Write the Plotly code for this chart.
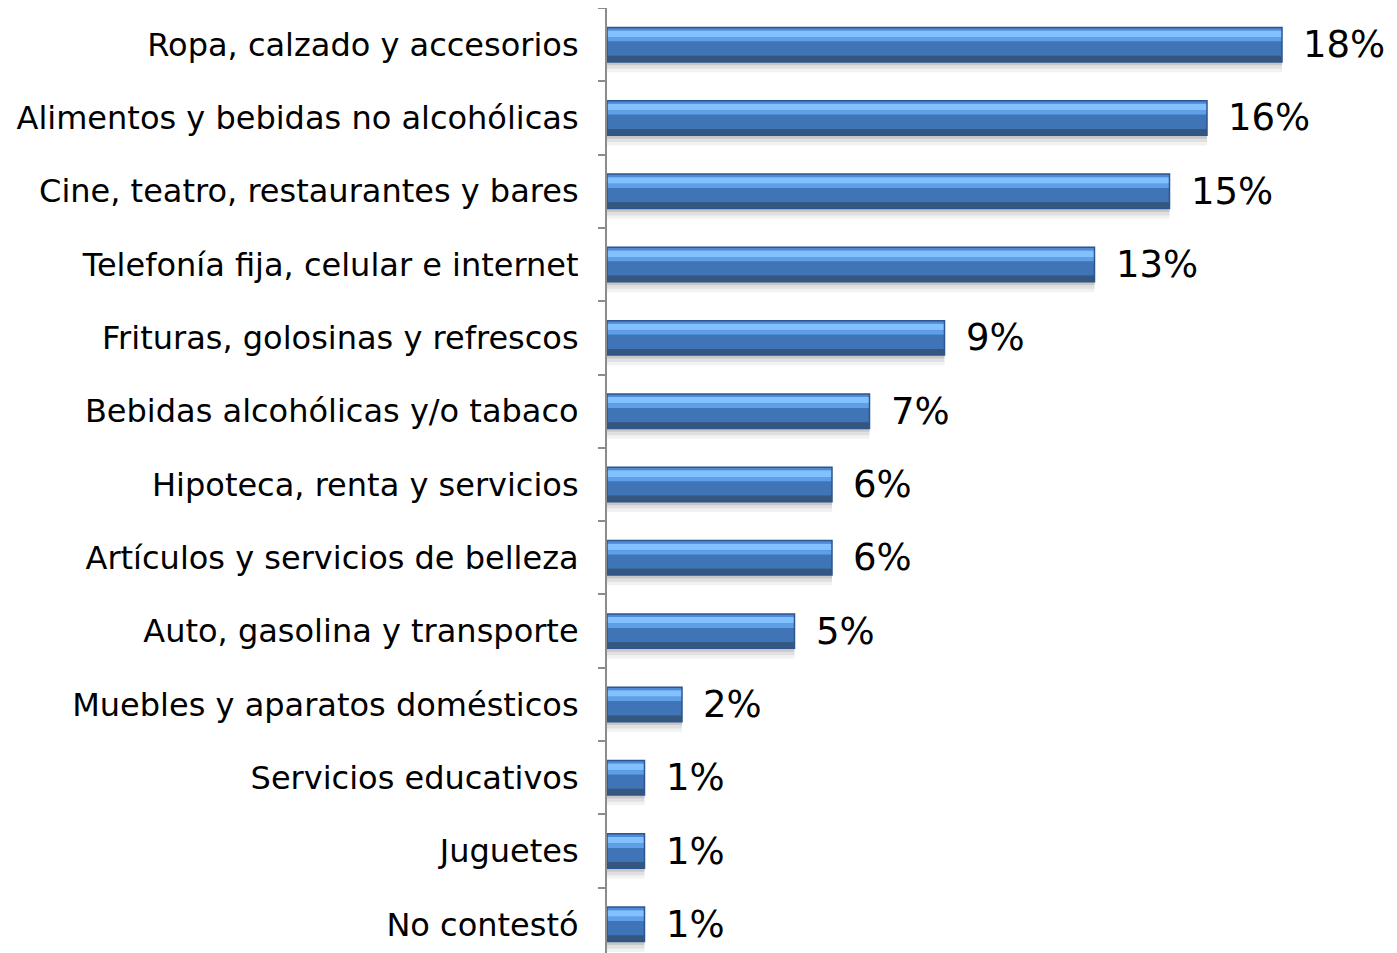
import plotly.graph_objects as go

categorias = [
    "Ropa, calzado y accesorios",
    "Alimentos y bebidas no alcohólicas",
    "Cine, teatro, restaurantes y bares",
    "Telefonía fija, celular e internet",
    "Frituras, golosinas y refrescos",
    "Bebidas alcohólicas y/o tabaco",
    "Hipoteca, renta y servicios",
    "Artículos y servicios de belleza",
    "Auto, gasolina y transporte",
    "Muebles y aparatos domésticos",
    "Servicios educativos",
    "Juguetes",
    "No contestó",
]
porcentajes = [18, 16, 15, 13, 9, 7, 6, 6, 5, 2, 1, 1, 1]
etiquetas = [f"{v}%" for v in porcentajes]

BAR_W = 0.47
# bevel look: stripes from top to bottom (fraction start, fraction height, colour)
franjas = [
    (0.00, 1.00, "#3e72b3"),
    (0.00, 0.09, "#4f8ad6"),
    (0.09, 0.19, "#82c1ff"),
    (0.28, 0.13, "#5e9fe8"),
    (0.41, 0.41, "#3f74b6"),
    (0.82, 0.18, "#34567f"),
]

fig = go.Figure()

# soft shadow below each bar
for start, h, col in [(1.00, 0.10, "rgba(0,0,0,0.22)"), (1.10, 0.10, "rgba(0,0,0,0.12)"),
                      (1.20, 0.10, "rgba(0,0,0,0.05)")]:
    fig.add_trace(go.Bar(
        x=porcentajes, y=categorias, orientation="h",
        width=BAR_W * h, offset=-BAR_W / 2 + BAR_W * start,
        marker=dict(color=col, line=dict(width=0)),
        hoverinfo="skip", showlegend=False,
    ))

for start, h, col in franjas:
    fig.add_trace(go.Bar(
        x=porcentajes, y=categorias, orientation="h",
        width=BAR_W * h, offset=-BAR_W / 2 + BAR_W * start,
        marker=dict(color=col, line=dict(width=0)),
        hoverinfo="skip", showlegend=False,
    ))

# dark outline
fig.add_trace(go.Bar(
    x=porcentajes, y=categorias, orientation="h",
    width=BAR_W, offset=-BAR_W / 2,
    marker=dict(color="rgba(0,0,0,0)", line=dict(color="#2d5590", width=1.5)),
    hoverinfo="skip", showlegend=False,
))

for cat, v, t in zip(categorias, porcentajes, etiquetas):
    fig.add_annotation(
        x=v, y=cat, text=t, showarrow=False,
        xanchor="left", yanchor="middle", xshift=19,
        font=dict(family="DejaVu Sans", size=37, color="#000000"),
    )

# the page body adds an 8px offset, so margins are reduced by 8
fig.update_layout(
    width=1397, height=953,
    barmode="overlay",
    paper_bgcolor="#ffffff", plot_bgcolor="#ffffff",
    margin=dict(l=599, r=48, t=0, b=0, autoexpand=False),
    font=dict(family="DejaVu Sans", color="#000000"),
    xaxis=dict(range=[0, 20], visible=False, showgrid=False, zeroline=False,
               automargin=False),
    yaxis=dict(
        type="category", range=[12.5, -0.5], automargin=False,
        showline=True, linecolor="#8c8c8c", linewidth=2,
        ticks="outside", tickson="boundaries", ticklen=7, tickwidth=2,
        tickcolor="#8c8c8c", showgrid=False, zeroline=False,
        tickfont=dict(family="DejaVu Sans", size=32, color="#000000"),
        ticklabelstandoff=20,
    ),
)

fig.write_html("out.html")
